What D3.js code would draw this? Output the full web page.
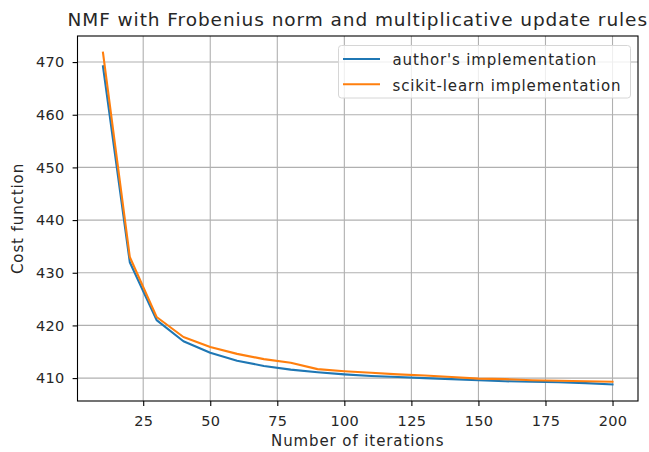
<!DOCTYPE html>
<html>
<head>
<meta charset="utf-8">
<script src="https://cdn.jsdelivr.net/npm/d3@7"></script>
<style>
  html, body { margin: 0; padding: 0; background: #fff; }
  svg { display: block; font-family: "DejaVu Sans", sans-serif; }
</style>
</head>
<body>
<svg id="chart" width="649" height="452"></svg>
<script>
// Iteration counts at which the cost was recorded
const iterations = [10, 20, 30, 40, 50, 60, 70, 80, 90, 100, 110, 120, 130, 140, 150, 160, 170, 180, 190, 200];
// Frobenius cost after each block of iterations
const authorCost = [469.2, 432.0, 421.0, 417.0, 414.8, 413.3, 412.3, 411.6, 411.1, 410.7, 410.4, 410.2, 410.0, 409.8, 409.6, 409.4, 409.3, 409.2, 409.05, 408.8];
const sklearnCost = [471.8, 433.0, 421.6, 417.8, 415.9, 414.6, 413.6, 412.9, 411.7, 411.3, 411.0, 410.7, 410.5, 410.2, 409.9, 409.8, 409.6, 409.5, 409.4, 409.3];
const xTicks = [25, 50, 75, 100, 125, 150, 175, 200];
const yTicks = [410, 420, 430, 440, 450, 460, 470];
const seriesNames = ["author's implementation", "scikit-learn implementation"];
const seriesColors = ["#1f77b4", "#ff7f0e"];

const svg = d3.select("#chart");
const m = { left: 77.5, top: 36, right: 649 - 638, bottom: 452 - 401 };
const W = 649 - m.left - m.right, H = 452 - m.top - m.bottom;

// Axis limits padded by 5% of the data span on each side
function padded(vals) {
  const lo = d3.min(vals), hi = d3.max(vals), p = (hi - lo) * 0.05;
  return [lo - p, hi + p];
}
const x = d3.scaleLinear().domain(padded(iterations)).range([m.left, m.left + W]);
const y = d3.scaleLinear().domain(padded(authorCost.concat(sklearnCost))).range([m.top + H, m.top]);

const g = svg.append("g");

// grid
g.append("g").selectAll("line").data(xTicks).join("line")
  .attr("x1", d => x(d)).attr("x2", d => x(d))
  .attr("y1", m.top).attr("y2", m.top + H)
  .attr("stroke", "#b0b0b0").attr("stroke-width", 1.1);
g.append("g").selectAll("line").data(yTicks).join("line")
  .attr("y1", d => y(d)).attr("y2", d => y(d))
  .attr("x1", m.left).attr("x2", m.left + W)
  .attr("stroke", "#b0b0b0").attr("stroke-width", 1.1);

// series lines
const series = [authorCost, sklearnCost];
const line = d3.line().x((d, i) => x(iterations[i])).y(d => y(d));
series.forEach((vals, k) => {
  g.append("path").datum(vals)
    .attr("d", line)
    .attr("fill", "none")
    .attr("stroke", seriesColors[k])
    .attr("stroke-width", 2.1)
    .attr("stroke-linejoin", "round")
    .attr("stroke-linecap", "square");
});

// frame
g.append("rect")
  .attr("x", m.left).attr("y", m.top).attr("width", W).attr("height", H)
  .attr("fill", "none").attr("stroke", "#000").attr("stroke-width", 1.1);

// axes
const xAxis = d3.axisBottom(x).tickValues(xTicks).tickSize(4.9).tickPadding(10);
const yAxis = d3.axisLeft(y).tickValues(yTicks).tickSize(4.9).tickPadding(8);
const xg = svg.append("g").attr("transform", `translate(0,${m.top + H})`).call(xAxis);
const yg = svg.append("g").attr("transform", `translate(${m.left},0)`).call(yAxis);
[xg, yg].forEach(a => {
  a.select(".domain").remove();
  a.selectAll(".tick line").attr("stroke", "#000").attr("stroke-width", 1.1);
  a.selectAll(".tick text").attr("fill", "#262626")
    .style("font-family", "DejaVu Sans").style("font-size", "14.5px")
    .style("letter-spacing", "0.3px");
});

// title and axis labels
svg.append("text")
  .attr("x", m.left + W / 2).attr("y", 26)
  .attr("text-anchor", "middle")
  .style("font-size", "18.5px").style("letter-spacing", "0.93px").attr("fill", "#262626")
  .text("NMF with Frobenius norm and multiplicative update rules");
svg.append("text")
  .attr("x", m.left + W / 2).attr("y", 446)
  .attr("text-anchor", "middle")
  .style("font-size", "15px").style("letter-spacing", "0.9px").attr("fill", "#262626")
  .text("Number of iterations");
svg.append("text")
  .attr("transform", `translate(23,${m.top + H / 2}) rotate(-90)`)
  .attr("text-anchor", "middle")
  .style("font-size", "15px").style("letter-spacing", "0.9px").attr("fill", "#262626")
  .text("Cost function");

// legend
const lg = svg.append("g");
lg.append("rect")
  .attr("x", 338.5).attr("y", 45.5).attr("width", 292).attr("height", 52.5)
  .attr("rx", 3).attr("ry", 3)
  .attr("fill", "rgba(255,255,255,0.8)").attr("stroke", "#d6d6d6").attr("stroke-width", 1);
seriesNames.forEach((name, k) => {
  const yy = 59 + k * 25.3;
  lg.append("line")
    .attr("x1", 343).attr("x2", 380).attr("y1", yy).attr("y2", yy)
    .attr("stroke", seriesColors[k]).attr("stroke-width", 2.1);
  lg.append("text")
    .attr("x", 392.5).attr("y", yy + 6.3)
    .style("font-size", "15px").style("letter-spacing", "0.85px").attr("fill", "#262626")
    .text(name);
});
</script>
</body>
</html>
